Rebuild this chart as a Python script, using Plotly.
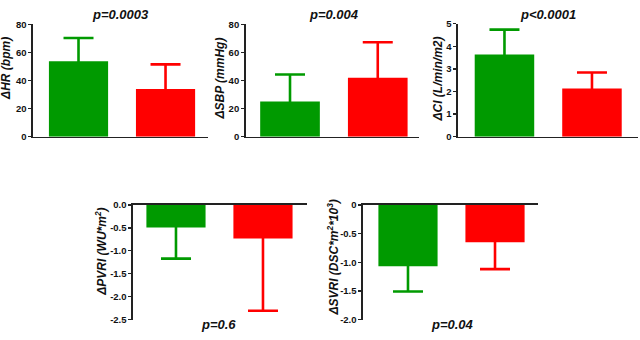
import plotly.graph_objects as go

groups = ["A", "B"]
colors = ["#009a00", "#ff0000"]

hr_mean = [53.8, 34.0]
hr_sd = [16.5, 17.5]
sbp_mean = [25.0, 42.0]
sbp_sd = [19.3, 25.3]
ci_mean = [3.64, 2.13]
ci_sd = [1.10, 0.71]
pvri_mean = [-0.49, -0.73]
pvri_sd = [0.68, 1.58]
svri_mean = [-1.07, -0.65]
svri_sd = [0.44, 0.47]

p_values = ["p=0.0003", "p=0.004", "p<0.0001", "p=0.6", "p=0.04"]
y_titles = ["ΔHR (bpm)", "ΔSBP (mmHg)", "ΔCI (L/min/m2)",
            "ΔPVRI (WU*m<sup>2</sup>)", "ΔSVRI (DSC*m<sup>2</sup>*10<sup>3</sup>)"]

W, H = 640, 340
FONT = "Arial, Liberation Sans, sans-serif"

panels = [
    dict(m=hr_mean, s=hr_sd, px=(33, 208), py=(19, 135), xr=(-0.523, 1.488), yr=(0, 80),
         tv=[0, 20, 40, 60, 80], tt=["0", "20", "40", "60", "80"], neg=False,
         title_xy=(120, 9), ylab_xy=(15, 65)),
    dict(m=sbp_mean, s=sbp_sd, px=(245.7, 419), py=(19, 135), xr=(-0.505, 1.47), yr=(0, 80),
         tv=[0, 20, 40, 60, 80], tt=["0", "20", "40", "60", "80"], neg=False,
         title_xy=(334, 9), ylab_xy=(229, 75)),
    dict(m=ci_mean, s=ci_sd, px=(458, 638), py=(18.3, 135), xr=(-0.531, 1.526), yr=(0, 5),
         tv=[0, 1, 2, 3, 4, 5], tt=["0", "1", "2", "3", "4", "5"], neg=False,
         title_xy=(548, 9), ylab_xy=(447, 76)),
    dict(m=pvri_mean, s=pvri_sd, px=(133, 307), py=(205.7, 324), xr=(-0.494, 1.506), yr=(-2.5, 0),
         tv=[-2.5, -2.0, -1.5, -1.0, -0.5, 0.0], tt=["-2.5", "-2.0", "-1.5", "-1.0", "-0.5", "0.0"], neg=True,
         title_xy=(218, 329), ylab_xy=(111, 254)),
    dict(m=svri_mean, s=svri_sd, px=(363, 538), py=(205.7, 324), xr=(-0.517, 1.494), yr=(-2.0, 0),
         tv=[-2.0, -1.5, -1.0, -0.5, 0], tt=["-2.0", "-1.5", "-1.0", "-0.5", "0"], neg=True,
         title_xy=(452, 329), ylab_xy=(343, 260)),
]

fig = go.Figure()
annotations = []
layout = {}
for i, p in enumerate(panels):
    n = "" if i == 0 else str(i + 1)
    xa, ya = "x" + n, "y" + n
    span = abs(p["yr"][1] - p["yr"][0])
    hide = 0.025 * span  # push the inner cap inside the bar so it is hidden
    for j in range(2):
        if p["neg"]:
            e = dict(type="data", symmetric=False, array=[hide], arrayminus=[p["s"][j]])
        else:
            e = dict(type="data", symmetric=False, array=[p["s"][j]], arrayminus=[hide])
        e.update(color=colors[j], thickness=2.6, width=15)
        fig.add_trace(go.Bar(x=[j], y=[p["m"][j]], marker=dict(color=colors[j], line=dict(width=0)),
                             width=0.68, error_y=e, xaxis=xa, yaxis=ya, showlegend=False))
    layout["xaxis" + n] = dict(domain=[p["px"][0] / W, p["px"][1] / W], range=list(p["xr"]),
                               showticklabels=False, ticks="", showgrid=False, zeroline=False,
                               showline=True, linecolor="#222", linewidth=1.6,
                               side="top" if p["neg"] else "bottom", anchor=ya, fixedrange=True)
    layout["yaxis" + n] = dict(domain=[1 - p["py"][1] / H, 1 - p["py"][0] / H], range=list(p["yr"]),
                               tickvals=p["tv"], ticktext=["<b>%s</b>" % t for t in p["tt"]],
                               ticks="outside", ticklen=3,
                               tickwidth=1.3, tickcolor="#222", showgrid=False, zeroline=False,
                               showline=True, linecolor="#222", linewidth=1.6, anchor=xa,
                               tickfont=dict(family=FONT, size=9.5, color="#111"),
                               fixedrange=True)
    annotations.append(dict(text="<b><i>%s</i></b>" % p_values[i], xref="paper", yref="paper",
                            x=p["title_xy"][0] / W, y=1 - p["title_xy"][1] / H,
                            xanchor="center", yanchor="middle", showarrow=False,
                            font=dict(family=FONT, size=13, color="#111")))
    annotations.append(dict(text="<b><i>%s</i></b>" % y_titles[i], xref="paper", yref="paper",
                            x=p["ylab_xy"][0] / W, y=1 - p["ylab_xy"][1] / H, textangle=-90,
                            xanchor="right", yanchor="middle", showarrow=False,
                            font=dict(family=FONT, size=12, color="#111")))

fig.update_layout(width=W, height=H, margin=dict(l=0, r=0, t=0, b=0),
                  paper_bgcolor="white", plot_bgcolor="white", barmode="overlay",
                  hovermode=False, annotations=annotations, **layout)
fig.write_html("out.html", config={"displayModeBar": False, "staticPlot": True},
               post_script="document.body.style.margin='0';document.body.style.padding='0';")
